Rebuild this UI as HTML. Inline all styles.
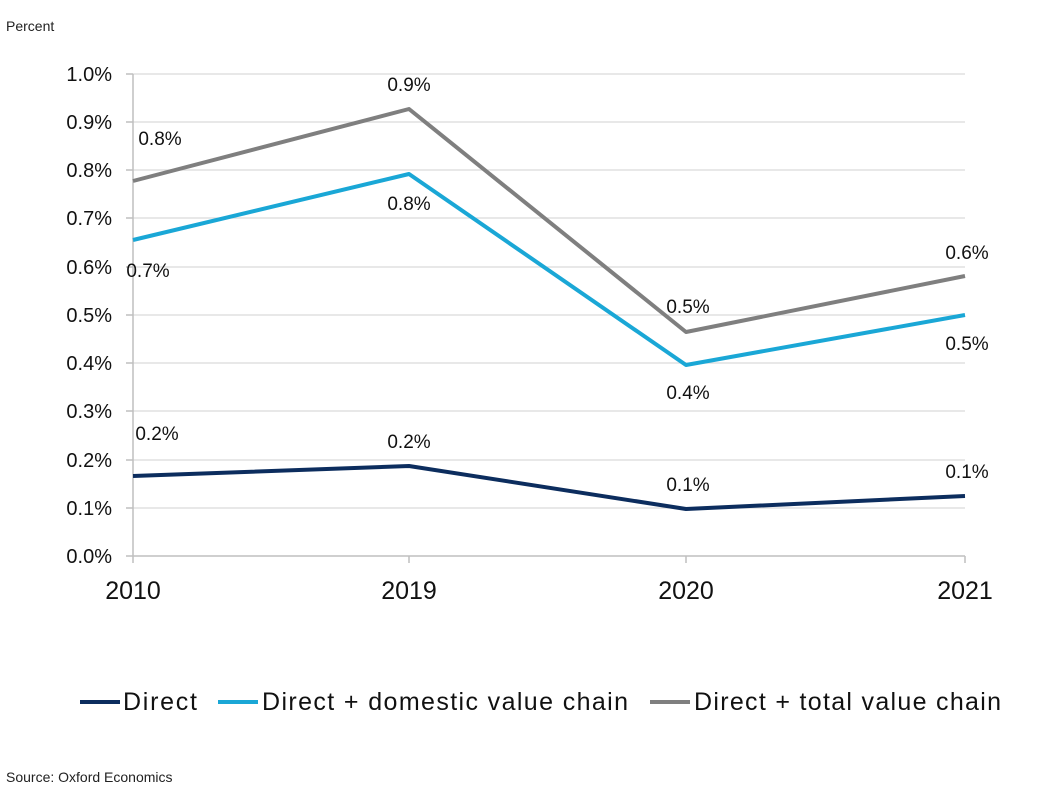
<!DOCTYPE html>
<html><head><style>body{margin:0;background:#fff;}svg{display:block}</style></head><body>
<svg width="1043" height="805" xmlns="http://www.w3.org/2000/svg" font-family="Liberation Sans, sans-serif">
<rect width="1043" height="805" fill="#fff"/>
<text x="6" y="31" font-size="14" fill="#222">Percent</text>
<g stroke="#d9d9d9" stroke-width="1.3">
<line x1="133" x2="965" y1="74" y2="74"/><line x1="133" x2="965" y1="122" y2="122"/>
<line x1="133" x2="965" y1="170" y2="170"/><line x1="133" x2="965" y1="218" y2="218"/>
<line x1="133" x2="965" y1="267" y2="267"/><line x1="133" x2="965" y1="315" y2="315"/>
<line x1="133" x2="965" y1="363" y2="363"/><line x1="133" x2="965" y1="411" y2="411"/>
<line x1="133" x2="965" y1="460" y2="460"/><line x1="133" x2="965" y1="508" y2="508"/>
</g>
<g stroke="#bfbfbf" stroke-width="1.5">
<line x1="133" x2="133" y1="74" y2="563"/><line x1="126" x2="965" y1="556" y2="556"/>
<line x1="126" x2="133" y1="74" y2="74"/><line x1="126" x2="133" y1="122" y2="122"/><line x1="126" x2="133" y1="170" y2="170"/><line x1="126" x2="133" y1="218" y2="218"/><line x1="126" x2="133" y1="267" y2="267"/><line x1="126" x2="133" y1="315" y2="315"/><line x1="126" x2="133" y1="363" y2="363"/><line x1="126" x2="133" y1="411" y2="411"/><line x1="126" x2="133" y1="460" y2="460"/><line x1="126" x2="133" y1="508" y2="508"/>
<line x1="409" x2="409" y1="556" y2="563"/><line x1="686" x2="686" y1="556" y2="563"/><line x1="965" x2="965" y1="556" y2="563"/>
</g>
<g font-size="20" fill="#111" text-anchor="end">
<text x="112" y="81">1.0%</text><text x="112" y="129">0.9%</text><text x="112" y="177">0.8%</text><text x="112" y="225">0.7%</text><text x="112" y="274">0.6%</text><text x="112" y="322">0.5%</text><text x="112" y="370">0.4%</text><text x="112" y="418">0.3%</text><text x="112" y="467">0.2%</text><text x="112" y="515">0.1%</text><text x="112" y="563">0.0%</text>
</g>
<g font-size="25" fill="#111" text-anchor="middle">
<text x="133" y="599">2010</text><text x="409" y="599">2019</text><text x="686" y="599">2020</text><text x="965" y="599">2021</text>
</g>
<g fill="none" stroke-width="4" stroke-linejoin="round">
<polyline stroke="#7f7f7f" points="133,181 409,109 686,332 965,276"/>
<polyline stroke="#1aa7d6" points="133,240 409,174 686,365 965,315"/>
<polyline stroke="#0c2d5e" points="133,476 409,466 686,509 965,496"/>
</g>
<g font-size="19" fill="#111" text-anchor="middle">
<text x="160" y="145">0.8%</text><text x="409" y="91">0.9%</text><text x="688" y="313">0.5%</text><text x="967" y="259">0.6%</text>
<text x="148" y="277">0.7%</text><text x="409" y="210">0.8%</text><text x="688" y="399">0.4%</text><text x="967" y="350">0.5%</text>
<text x="157" y="440">0.2%</text><text x="409" y="448">0.2%</text><text x="688" y="491">0.1%</text><text x="967" y="478">0.1%</text>
</g>
<g stroke-width="4">
<line x1="80" x2="120" y1="702" y2="702" stroke="#0c2d5e"/>
<line x1="218" x2="258" y1="702" y2="702" stroke="#1aa7d6"/>
<line x1="650" x2="690" y1="702" y2="702" stroke="#7f7f7f"/>
</g>
<g font-size="25" fill="#111">
<text x="123" y="710" textLength="74" lengthAdjust="spacing">Direct</text><text x="262" y="710" textLength="366" lengthAdjust="spacing">Direct + domestic value chain</text><text x="694" y="710" textLength="307" lengthAdjust="spacing">Direct + total value chain</text>
</g>
<text x="6" y="782" font-size="14" fill="#222">Source: Oxford Economics</text>
</svg>
</body></html>
